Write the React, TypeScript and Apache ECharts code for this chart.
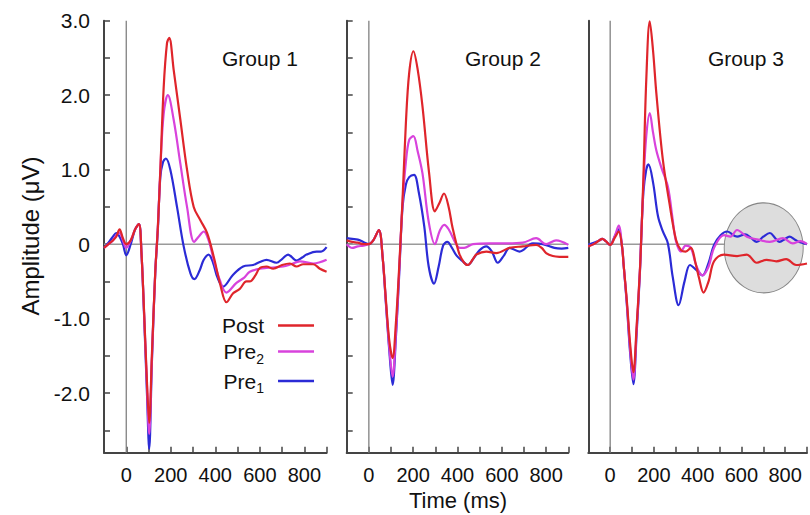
import React, { useEffect, useRef } from "react";
import * as echarts from "echarts";

const FONT = '"Liberation Sans", Arial, Helvetica, sans-serif';

// time (ms) ticks and labels
const xTickLabels = [0, 200, 400, 600, 800];
const yTickValues = [-2.5, -2.0, -1.5, -1.0, -0.5, 0, 0.5, 1.0, 1.5, 2.0, 2.5, 3.0];
const yLabelValues = [-2, -1, 0, 1, 2, 3];
const groupNames = ["Group 1", "Group 2", "Group 3"];
const seriesNames = ["Post", "Pre2", "Pre1"];

// reference lines
const zeroLine = [[-100, 0], [900, 0]];
const onsetLine = [[0, -2.8], [0, 3.0]];
const highlightCenter = [[702, -0.05]];

// Group 1
const g1Post = [[-100,-0.05],[-80,0.0],[-60,0.05],[-45,0.1],[-30,0.2],[-15,0.08],[0,0.0],[20,0.05],[40,0.2],[57,0.27],[68,-0.1],[80,-0.9],[93,-1.85],[103,-2.4],[115,-1.5],[130,-0.39],[142,0.23],[153,0.99],[168,2.1],[183,2.7],[193,2.77],[213,2.34],[243,1.67],[273,1.0],[303,0.5],[333,0.32],[363,0.15],[393,-0.17],[423,-0.55],[450,-0.78],[480,-0.66],[510,-0.6],[540,-0.5],[555,-0.5],[580,-0.42],[600,-0.32],[630,-0.3],[660,-0.33],[700,-0.28],[735,-0.26],[765,-0.3],[795,-0.27],[840,-0.27],[870,-0.33],[900,-0.37]];
const g1Pre2 = [[-100,-0.05],[-80,0.0],[-60,0.05],[-45,0.12],[-30,0.15],[-15,0.05],[0,-0.05],[20,0.05],[40,0.2],[57,0.27],[68,-0.1],[80,-0.92],[93,-1.9],[103,-2.55],[115,-1.55],[130,-0.39],[142,0.23],[153,0.99],[168,1.75],[187,2.0],[213,1.67],[243,1.08],[273,0.5],[305,0.03],[325,0.1],[348,0.17],[370,0.05],[393,-0.21],[420,-0.48],[450,-0.65],[495,-0.52],[530,-0.45],[555,-0.37],[600,-0.33],[630,-0.32],[705,-0.3],[740,-0.27],[780,-0.23],[840,-0.26],[900,-0.21]];
const g1Pre1 = [[-100,-0.05],[-80,0.02],[-60,0.1],[-45,0.15],[-30,0.1],[-15,0.0],[0,-0.15],[20,0.0],[40,0.2],[57,0.27],[68,-0.1],[80,-0.95],[93,-2.0],[103,-2.75],[115,-1.6],[130,-0.4],[142,0.2],[153,0.9],[165,1.1],[178,1.15],[198,1.0],[228,0.5],[258,-0.03],[288,-0.39],[306,-0.47],[330,-0.35],[348,-0.21],[370,-0.14],[390,-0.25],[410,-0.45],[435,-0.57],[480,-0.41],[525,-0.3],[570,-0.28],[600,-0.24],[630,-0.21],[675,-0.25],[700,-0.2],[727,-0.14],[765,-0.22],[790,-0.18],[810,-0.14],[855,-0.1],[875,-0.1],[900,-0.04]];

// Group 2
const g2Post = [[-100,0.05],[-75,0.03],[-50,0.02],[-25,0.0],[0,0.0],[20,0.05],[45,0.19],[62,-0.17],[77,-0.75],[92,-1.29],[107,-1.53],[122,-1.06],[137,-0.3],[152,0.6],[167,1.62],[182,2.3],[201,2.59],[220,2.35],[242,1.85],[272,0.95],[298,0.44],[318,0.55],[339,0.68],[360,0.5],[377,0.23],[407,-0.12],[430,-0.25],[447,-0.28],[470,-0.2],[485,-0.14],[530,-0.1],[575,-0.12],[635,-0.05],[695,-0.03],[755,-0.01],[780,-0.05],[800,-0.12],[830,-0.16],[860,-0.17],[900,-0.17]];
const g2Pre2 = [[-100,0.0],[-75,-0.05],[-50,-0.03],[-25,-0.02],[0,0.0],[20,0.05],[45,0.19],[62,-0.17],[77,-0.78],[92,-1.38],[107,-1.78],[122,-1.2],[137,-0.35],[152,0.55],[167,1.1],[182,1.4],[201,1.45],[220,1.25],[242,0.95],[270,0.3],[298,0.0],[320,0.18],[340,0.26],[360,0.2],[392,0.01],[410,-0.05],[430,-0.05],[470,0.0],[545,0.01],[620,0.01],[695,0.02],[755,0.08],[800,0.0],[845,0.05],[900,-0.01]];
const g2Pre1 = [[-100,0.08],[-75,0.07],[-50,0.06],[-25,0.03],[0,0.0],[20,0.05],[45,0.19],[62,-0.17],[77,-0.8],[92,-1.42],[107,-1.89],[122,-1.25],[137,-0.4],[152,0.5],[167,0.8],[182,0.9],[204,0.93],[225,0.7],[250,0.24],[270,-0.3],[294,-0.53],[315,-0.3],[335,-0.02],[354,0.03],[375,-0.05],[395,-0.15],[420,-0.22],[447,-0.28],[475,-0.18],[500,-0.08],[530,-0.03],[555,-0.1],[582,-0.25],[610,-0.15],[635,-0.05],[680,-0.1],[740,0.01],[785,0.0],[837,-0.05],[870,-0.06],[900,-0.05]];

// Group 3
const g3Post = [[-100,-0.03],[-75,0.0],[-50,0.05],[-36,0.07],[-20,0.04],[0,-0.01],[20,0.08],[39,0.17],[55,-0.05],[61,-0.26],[76,-0.75],[91,-1.33],[106,-1.72],[121,-1.1],[136,-0.35],[141,0.0],[152,0.9],[165,2.2],[181,2.99],[196,2.6],[211,2.03],[241,1.13],[271,0.55],[301,0.06],[324,-0.08],[345,-0.1],[369,-0.05],[390,-0.25],[406,-0.45],[427,-0.65],[450,-0.5],[475,-0.23],[520,-0.14],[580,-0.16],[625,-0.14],[670,-0.25],[715,-0.21],[760,-0.23],[805,-0.2],[850,-0.28],[900,-0.26]];
const g3Pre2 = [[-100,-0.03],[-75,0.0],[-50,0.05],[-36,0.07],[-20,0.04],[0,-0.01],[20,0.1],[39,0.25],[55,-0.05],[61,-0.26],[76,-0.78],[91,-1.4],[106,-1.82],[121,-1.15],[136,-0.35],[141,0.0],[152,0.8],[165,1.45],[181,1.76],[196,1.5],[211,1.26],[235,1.02],[264,0.77],[285,0.35],[301,0.04],[324,-0.1],[345,-0.02],[369,-0.05],[395,-0.3],[422,-0.42],[450,-0.3],[475,-0.05],[520,0.12],[550,0.1],[580,0.19],[625,0.1],[677,0.06],[730,0.03],[790,0.08],[835,0.01],[870,0.04],[900,0.0]];
const g3Pre1 = [[-100,-0.01],[-75,0.02],[-50,0.05],[-36,0.07],[-20,0.04],[0,-0.01],[20,0.1],[39,0.2],[55,-0.05],[61,-0.26],[76,-0.8],[91,-1.45],[106,-1.88],[121,-1.2],[136,-0.38],[141,0.0],[152,0.7],[165,1.0],[175,1.07],[196,0.83],[219,0.37],[241,0.17],[264,0.01],[286,-0.44],[313,-0.82],[340,-0.5],[365,-0.28],[395,-0.35],[422,-0.42],[450,-0.25],[475,-0.01],[505,0.12],[535,0.17],[580,0.1],[617,0.13],[645,0.08],[670,0.03],[700,0.1],[730,0.15],[755,0.08],[775,0.03],[800,0.07],[820,0.1],[845,0.06],[865,0.03],[900,0.0]];

const groupData = [
  [g1Post, g1Pre2, g1Pre1],
  [g2Post, g2Pre2, g2Pre1],
  [g3Post, g3Pre2, g3Pre1],
];

const COLORS: Record<string, string> = { Post: "#df252b", Pre2: "#d843dc", Pre1: "#2b2bd6" };

export default function App() {
  const ref = useRef<HTMLDivElement>(null);
  useEffect(() => {
    if (!ref.current) return;
    const chart = echarts.init(ref.current, undefined, { renderer: "svg" });
    const grids = [
      { left: 104, top: 20.7, width: 222.6, height: 432 },
      { left: 346.7, top: 20.7, width: 221.6, height: 432 },
      { left: 588.3, top: 20.7, width: 221.7, height: 432 },
    ];
    const axisColor = "#444";
    const xAxis = grids.map((_, i) => ({
      type: "value",
      gridIndex: i,
      min: -100,
      max: 900,
      interval: 100,
      axisLine: { show: true, onZero: false, lineStyle: { color: axisColor, width: 2 } },
      axisTick: { show: true, inside: true, length: 6, lineStyle: { color: axisColor, width: 1.5 } },
      axisLabel: {
        fontSize: 20,
        fontFamily: FONT,
        color: "#111",
        margin: 12,
        showMinLabel: true,
        showMaxLabel: true,
        formatter: (v: number) => (xTickLabels.indexOf(v) >= 0 ? String(v) : ""),
      },
      splitLine: { show: false },
    }));
    const yAxis = grids.map((_, i) => ({
      type: "value",
      gridIndex: i,
      min: -2.8,
      max: 3.0,
      axisLine: { show: true, onZero: false, lineStyle: { color: axisColor, width: 2 } },
      axisTick: {
        show: i < 2,
        inside: true,
        length: 6,
        customValues: yTickValues,
        lineStyle: { color: axisColor, width: 1.5 },
      },
      axisLabel: {
        show: i === 0,
        customValues: yLabelValues,
        fontSize: 21,
        fontFamily: FONT,
        color: "#111",
        margin: 14,
        formatter: (v: number) => (v === 0 ? "0" : v.toFixed(1)),
      },
      splitLine: { show: false },
    }));

    const series: any[] = [];
    grids.forEach((_, i) => {
      series.push({
        type: "line",
        xAxisIndex: i,
        yAxisIndex: i,
        data: zeroLine,
        symbol: "none",
        silent: true,
        z: 1,
        lineStyle: { color: "#9a9a9a", width: 1.5 },
      });
      series.push({
        type: "line",
        xAxisIndex: i,
        yAxisIndex: i,
        data: onsetLine,
        symbol: "none",
        silent: true,
        z: 1,
        lineStyle: { color: "#808080", width: 1.3 },
      });
      if (i === 2) {
        series.push({
          type: "scatter",
          xAxisIndex: i,
          yAxisIndex: i,
          data: highlightCenter,
          symbol: "circle",
          symbolSize: [79, 90],
          silent: true,
          z: 2,
          itemStyle: { color: "#dddddd", borderColor: "#858585", borderWidth: 1, opacity: 1 },
        });
      }
      const order = [2, 1, 0];
      order.forEach((k) => {
        const name = seriesNames[k];
        series.push({
          type: "line",
          name,
          xAxisIndex: i,
          yAxisIndex: i,
          data: groupData[i][k],
          smooth: 0.35,
          symbol: "none",
          z: 3,
          color: COLORS[name],
          itemStyle: { color: COLORS[name] },
          lineStyle: { color: COLORS[name], width: 2.2 },
        });
      });
    });

    const titleLefts = [222, 465, 708];
    chart.setOption({
      animation: false,
      backgroundColor: "#ffffff",
      grid: grids,
      xAxis,
      yAxis,
      series,
      title: groupNames.map((g, i) => ({
        text: g,
        left: titleLefts[i],
        top: 48,
        padding: 0,
        textStyle: { fontSize: 21, fontWeight: "normal", fontFamily: FONT, color: "#111" },
      })),
      legend: {
        data: seriesNames,
        orient: "vertical",
        left: 217,
        top: 310,
        align: "right",
        icon: "rect",
        itemWidth: 36,
        itemHeight: 2.5,
        itemGap: 5,
        selectedMode: false,
        formatter: (n: string) => (n === "Post" ? "{m|Post}" : `{m|Pre}{s|${n.slice(3)}}`),
        textStyle: {
          padding: [0, 9, 0, 0],
          rich: {
            m: { fontSize: 21, fontFamily: FONT, color: "#111", lineHeight: 28 },
            s: { fontSize: 14, fontFamily: FONT, color: "#111", lineHeight: 14, verticalAlign: "bottom" },
          },
        },
      },
      graphic: [
        {
          type: "text",
          x: 30,
          y: 236,
          rotation: Math.PI / 2,
          style: {
            text: "Amplitude (μV)",
            fontSize: 24,
            fontFamily: FONT,
            fill: "#111",
            align: "center",
            verticalAlign: "middle",
          },
        },
        {
          type: "text",
          x: 458,
          y: 500,
          style: {
            text: "Time (ms)",
            fontSize: 22,
            fontFamily: FONT,
            fill: "#111",
            align: "center",
            verticalAlign: "middle",
          },
        },
      ],
    });
    return () => chart.dispose();
  }, []);
  return <div ref={ref} style={{ position: "absolute", left: 0, top: 0, width: 810, height: 515 }} />;
}
